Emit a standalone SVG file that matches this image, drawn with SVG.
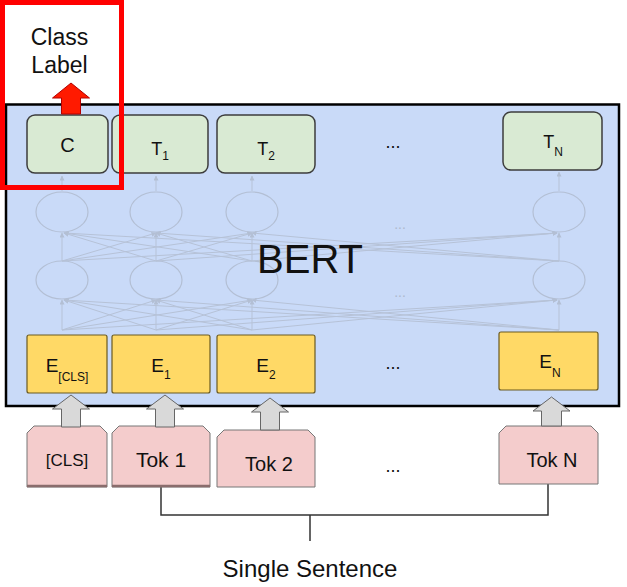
<svg xmlns="http://www.w3.org/2000/svg" width="627" height="587" viewBox="0 0 627 587">
<style>
text{font-family:"Liberation Sans",Arial,sans-serif;fill:#111}
.tbox{fill:#d9ead3;stroke:#3d3d3d;stroke-width:1.5}
.ebox{fill:#ffd966;stroke:#6b5a20;stroke-width:1.2}
.tok{fill:#f4cccc;stroke:#777;stroke-width:1}
.tokb{stroke:#8a6d6d;stroke-width:2.5}
.garrow{fill:#d9d9d9;stroke:#666;stroke-width:1}
.net{stroke:#b6c2d7;stroke-width:1;fill:none}
.circ{fill:none;stroke:#b3bfd4;stroke-width:1.2}
.faint{fill:#aeb9cd}
.br{stroke:#333;stroke-width:1.5;fill:none}
</style>
<defs>
<marker id="ah" viewBox="0 0 10 10" refX="9" refY="5" markerWidth="5" markerHeight="5" orient="auto" markerUnits="userSpaceOnUse">
<path d="M0,0 L10,5 L0,10 Z" fill="#b3bfd4"/>
</marker>
</defs>
<rect width="627" height="587" fill="#fff"/>

<g id="bert-box">
<rect x="6" y="104.5" width="613" height="301.5" fill="#c9daf8" stroke="#000" stroke-width="2.5"/>
</g>

<g id="network">
<ellipse class="circ" cx="62" cy="212" rx="26" ry="20"/>
<ellipse class="circ" cx="156" cy="212" rx="26" ry="20"/>
<ellipse class="circ" cx="252" cy="212" rx="26" ry="20"/>
<ellipse class="circ" cx="559" cy="212" rx="26" ry="20"/>
<ellipse class="circ" cx="62" cy="280" rx="26" ry="19"/>
<ellipse class="circ" cx="156" cy="280" rx="26" ry="19"/>
<ellipse class="circ" cx="252" cy="280" rx="26" ry="19"/>
<ellipse class="circ" cx="559" cy="280" rx="26" ry="19"/>
<text class="faint" x="400" y="229" font-size="14" text-anchor="middle">...</text>
<text class="faint" x="400" y="297" font-size="14" text-anchor="middle">...</text>
</g>

<g id="connectors">
<g class="net" marker-end="url(#ah)">
<line x1="62" y1="191" x2="62" y2="176"/>
<line x1="156" y1="191" x2="156" y2="176"/>
<line x1="252" y1="191" x2="252" y2="176"/>
<line x1="559" y1="191" x2="559" y2="172"/>

<line x1="62" y1="261" x2="62" y2="233"/>
<line x1="62" y1="261" x2="156" y2="233"/>
<line x1="62" y1="261" x2="252" y2="233"/>
<line x1="62" y1="261" x2="557" y2="233"/>
<line x1="156" y1="261" x2="64" y2="233"/>
<line x1="156" y1="261" x2="156" y2="233"/>
<line x1="156" y1="261" x2="252" y2="233"/>
<line x1="156" y1="261" x2="557" y2="233"/>
<line x1="252" y1="261" x2="64" y2="233"/>
<line x1="252" y1="261" x2="156" y2="233"/>
<line x1="252" y1="261" x2="252" y2="233"/>
<line x1="252" y1="261" x2="557" y2="233"/>
<line x1="559" y1="261" x2="64" y2="233"/>
<line x1="559" y1="261" x2="156" y2="233"/>
<line x1="559" y1="261" x2="252" y2="233"/>
<line x1="559" y1="261" x2="559" y2="233"/>

<line x1="62" y1="330" x2="62" y2="300"/>
<line x1="62" y1="330" x2="156" y2="300"/>
<line x1="62" y1="330" x2="252" y2="300"/>
<line x1="62" y1="330" x2="557" y2="300"/>
<line x1="156" y1="330" x2="64" y2="300"/>
<line x1="156" y1="330" x2="156" y2="300"/>
<line x1="156" y1="330" x2="252" y2="300"/>
<line x1="156" y1="330" x2="557" y2="300"/>
<line x1="252" y1="330" x2="64" y2="300"/>
<line x1="252" y1="330" x2="156" y2="300"/>
<line x1="252" y1="330" x2="252" y2="300"/>
<line x1="252" y1="330" x2="557" y2="300"/>
<line x1="559" y1="330" x2="64" y2="300"/>
<line x1="559" y1="330" x2="156" y2="300"/>
<line x1="559" y1="330" x2="252" y2="300"/>
<line x1="559" y1="330" x2="559" y2="300"/>
</g>
<path class="br" d="M161,487 V515 H548 V484 M310,515 V541"/>
</g>

<g id="bert-label">
<text x="310" y="273" font-size="40" text-anchor="middle">BERT</text>
</g>

<g id="node-C"><rect class="tbox" x="27" y="115" width="81" height="58" rx="8"/><text x="67.5" y="152" font-size="20" text-anchor="middle">C</text></g>
<g id="node-T1"><rect class="tbox" x="112" y="115" width="96" height="58" rx="8"/><text x="160" y="155" font-size="18" text-anchor="middle">T<tspan font-size="12" dy="5">1</tspan></text></g>
<g id="node-T2"><rect class="tbox" x="217" y="115" width="98" height="58" rx="8"/><text x="266" y="155" font-size="18" text-anchor="middle">T<tspan font-size="12" dy="5">2</tspan></text></g>
<g id="dots-T"><text x="393" y="148" font-size="18" text-anchor="middle">...</text></g>
<g id="node-TN"><rect class="tbox" x="503" y="112" width="99" height="58" rx="8"/><text x="553" y="148" font-size="18" text-anchor="middle">T<tspan font-size="12" dy="8">N</tspan></text></g>

<g id="node-ECLS"><rect class="ebox" x="27" y="335" width="80" height="58" rx="2"/><text x="67" y="372" font-size="19" text-anchor="middle">E<tspan font-size="12" dy="9">[CLS]</tspan></text></g>
<g id="node-E1"><rect class="ebox" x="112" y="335" width="98" height="58" rx="2"/><text x="161" y="372" font-size="19" text-anchor="middle">E<tspan font-size="12" dy="7">1</tspan></text></g>
<g id="node-E2"><rect class="ebox" x="217" y="335" width="98" height="58" rx="2"/><text x="266" y="372" font-size="19" text-anchor="middle">E<tspan font-size="12" dy="7">2</tspan></text></g>
<g id="dots-E"><text x="393" y="369" font-size="18" text-anchor="middle">...</text></g>
<g id="node-EN"><rect class="ebox" x="499" y="332" width="99" height="58" rx="2"/><text x="550" y="368" font-size="19" text-anchor="middle">E<tspan font-size="12" dy="9">N</tspan></text></g>

<g id="node-tokCLS">
<path class="tok" d="M27,487 V433 L34,426 H100 L107,433 V487 Z"/>
<line class="tokb" x1="27" y1="486" x2="107" y2="486"/>
<text x="67" y="466" font-size="17" text-anchor="middle">[CLS]</text>
</g>
<g id="node-tok1">
<path class="tok" d="M112,487 V433 L119,426 H203 L210,433 V487 Z"/>
<line class="tokb" x1="112" y1="486" x2="210" y2="486"/>
<text x="161" y="467" font-size="21" text-anchor="middle">Tok 1</text>
</g>
<g id="node-tok2">
<path class="tok" d="M217,487 V437 L224,430 H308 L315,437 V487 Z"/>
<text x="269" y="471" font-size="20" text-anchor="middle">Tok 2</text>
</g>
<g id="dots-tok"><text x="393" y="472" font-size="18" text-anchor="middle">...</text></g>
<g id="node-tokN">
<path class="tok" d="M499,484 V433 L506,426 H591 L598,433 V484 Z"/>
<text x="552" y="467" font-size="20" text-anchor="middle">Tok N</text>
</g>

<g id="input-arrows">
<path class="garrow" d="M71,395 L89.5,409 L80.5,409 L80.5,427 L61.5,427 L61.5,409 L52.5,409 Z"/>
<path class="garrow" d="M165,395 L183.5,409 L174.5,409 L174.5,427 L155.5,427 L155.5,409 L146.5,409 Z"/>
<path class="garrow" d="M270,398 L288.5,412 L279.5,412 L279.5,430 L260.5,430 L260.5,412 L251.5,412 Z"/>
<path class="garrow" d="M551.5,397 L570,411 L561.5,411 L561.5,426 L541.5,426 L541.5,411 L533,411 Z"/>
</g>

<g id="output-arrow">
<path d="M71,83 L89.5,98 L80.5,98 L80.5,114 L61.5,114 L61.5,98 L52.5,98 Z" fill="#ff1a00" stroke="#b40000" stroke-width="1"/>
</g>

<g id="class-label">
<text x="59.5" y="45" font-size="23" text-anchor="middle">Class</text>
<text x="59.5" y="73" font-size="23" text-anchor="middle">Label</text>
</g>

<g id="sentence-label">
<text x="310" y="577" font-size="24" text-anchor="middle">Single Sentence</text>
</g>

<rect id="highlight" x="2.5" y="2.5" width="119" height="185" fill="none" stroke="#ff0000" stroke-width="5"/>
</svg>
